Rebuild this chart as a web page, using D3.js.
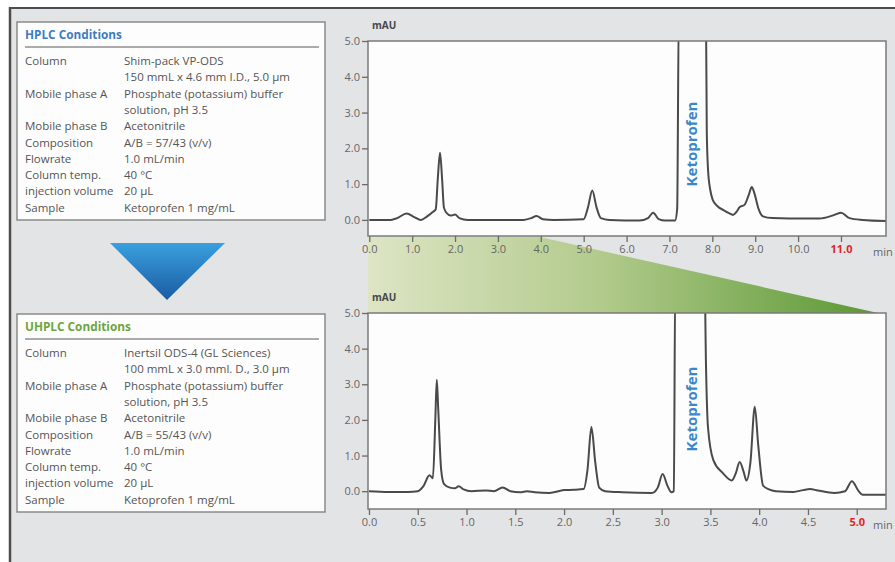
<!DOCTYPE html>
<html lang="en">
<head>
  <meta charset="utf-8">
  <title>HPLC vs UHPLC - Ketoprofen</title>
  <script type="text/javascript" src="https://cdn.jsdelivr.net/npm/d3@7/dist/d3.min.js"></script>
  <style>
    body { margin: 0; background: #fff; }
    svg { display: block; font-family: "Open Sans", "Noto Sans", sans-serif; }
  </style>
</head>
<body>
  <script type="text/javascript">

  // Conditions (textes des deux encadrés)
  var condLabels = ["Column", "", "Mobile phase A", "", "Mobile phase B", "Composition",
    "Flowrate", "Column temp.", "injection volume", "Sample"];
  var hplcValues = ["Shim-pack VP-ODS", "150 mmL x 4.6 mm I.D., 5.0 µm",
    "Phosphate (potassium) buffer", "solution, pH 3.5", "Acetonitrile",
    "A/B = 57/43 (v/v)", "1.0 mL/min", "40 °C", "20 µL", "Ketoprofen 1 mg/mL"];
  var uhplcValues = ["Inertsil ODS-4 (GL Sciences)", "100 mmL x 3.0 mml. D., 3.0 µm",
    "Phosphate (potassium) buffer", "solution, pH 3.5", "Acetonitrile",
    "A/B = 55/43 (v/v)", "1.0 mL/min", "40 °C", "20 µL", "Ketoprofen 1 mg/mL"];

  // Axes
  var yTicks = [0, 1, 2, 3, 4, 5];
  var hplcTimeTicks = [0, 1, 2, 3, 4, 5, 6, 7, 8, 9, 10, 11];
  var uhplcTimeTicks = [0, 0.5, 1, 1.5, 2, 2.5, 3, 3.5, 4, 4.5, 5];

  // Chromatogrammes : [temps (min), absorbance (mAU)]
  // (le pic du kétoprofène sort de l'échelle, il est coupé à 5.0)
  var hplcTrace = [
    [0.0, 0.0], [0.5, 0.0], [0.65, 0.05], [0.87, 0.18], [1.05, 0.08], [1.2, 0.0],
    [1.35, 0.1], [1.48, 0.22], [1.55, 0.3], [1.6, 1.2], [1.65, 1.88], [1.7, 1.1],
    [1.74, 0.35], [1.8, 0.2], [1.9, 0.12], [2.0, 0.15], [2.1, 0.05], [2.3, 0.0],
    [3.0, 0.0], [3.6, 0.0], [3.78, 0.05], [3.9, 0.11], [4.05, 0.02], [4.3, 0.0],
    [5.0, 0.02], [5.1, 0.35], [5.2, 0.82], [5.3, 0.35], [5.4, 0.05], [5.6, 0.0],
    [6.3, -0.02], [6.5, 0.05], [6.62, 0.2], [6.75, 0.02], [6.9, -0.02], [7.13, -0.02],
    [7.18, 0.3], [7.22, 6.0], [7.85, 6.0], [7.87, 2.5], [7.9, 1.4], [7.95, 0.85],
    [8.01, 0.56], [8.12, 0.38], [8.25, 0.28], [8.4, 0.18], [8.48, 0.14], [8.56, 0.22],
    [8.64, 0.36], [8.75, 0.42], [8.85, 0.7], [8.92, 0.92], [8.98, 0.75], [9.08, 0.3],
    [9.18, 0.1], [9.4, 0.05], [9.8, 0.04], [10.5, 0.04], [10.8, 0.12], [11.0, 0.2],
    [11.2, 0.05], [11.5, 0.0], [12.05, -0.03]
  ];
  var uhplcTrace = [
    [0.0, 0.0], [0.2, -0.02], [0.4, -0.02], [0.5, 0.0], [0.56, 0.15], [0.62, 0.45],
    [0.655, 0.36], [0.68, 2.0], [0.695, 3.13], [0.71, 2.3], [0.74, 0.6], [0.77, 0.2],
    [0.83, 0.1], [0.88, 0.08], [0.92, 0.14], [0.97, 0.05], [1.05, 0.0], [1.2, 0.02],
    [1.28, 0.0], [1.37, 0.1], [1.45, 0.0], [1.55, -0.03], [1.62, 0.0], [1.7, -0.03],
    [1.85, -0.05], [2.0, 0.03], [2.1, 0.04], [2.2, 0.06], [2.24, 0.6], [2.28, 1.8],
    [2.32, 0.8], [2.36, 0.1], [2.42, 0.0], [2.6, -0.03], [2.9, -0.05], [2.96, 0.1],
    [3.01, 0.48], [3.06, 0.15], [3.1, -0.03], [3.125, 0.0], [3.14, 6.0], [3.44, 6.0],
    [3.455, 3.5], [3.475, 1.8], [3.53, 0.87], [3.63, 0.5], [3.72, 0.3], [3.76, 0.5],
    [3.8, 0.82], [3.84, 0.55], [3.87, 0.3], [3.91, 0.8], [3.955, 2.37], [3.99, 1.3],
    [4.04, 0.16], [4.1, 0.05], [4.17, 0.0], [4.35, -0.02], [4.45, 0.03], [4.52, 0.06],
    [4.6, 0.02], [4.77, -0.05], [4.88, 0.0], [4.95, 0.28], [5.02, 0.0], [5.06, -0.1],
    [5.3, -0.1]
  ];

  var width = 895;
  var height = 562;

  var svg = d3.select("body")
    .append("svg")
    .attr("width", width)
    .attr("height", height)
    .attr("viewBox", [0, 0, width, height]);

  var defs = svg.append("defs");

  // fond gris + cadre
  svg.append("rect")
    .attr("x", 10).attr("y", 8)
    .attr("width", width - 10).attr("height", height - 8)
    .attr("fill", "#e3e4e6");
  svg.append("line")
    .attr("x1", 9).attr("x2", width).attr("y1", 8).attr("y2", 8)
    .attr("stroke", "#4d4d4d").attr("stroke-width", 2);
  svg.append("line")
    .attr("x1", 10).attr("x2", 10).attr("y1", 7).attr("y2", height)
    .attr("stroke", "#4d4d4d").attr("stroke-width", 2.5);

  // encadrés des conditions
  function conditionsBox(top, title, color, values) {
    var g = svg.append("g");
    g.append("rect")
      .attr("x", 17).attr("y", top)
      .attr("width", 308).attr("height", 198)
      .attr("fill", "#fdfdfd")
      .attr("stroke", "#8a8a8a").attr("stroke-width", 1.5);
    g.append("text")
      .attr("x", 25).attr("y", top + 17)
      .attr("font-size", "11.8px").attr("font-weight", "bold")
      .attr("fill", color)
      .text(title);
    g.append("line")
      .attr("x1", 25).attr("x2", 319)
      .attr("y1", top + 25).attr("y2", top + 25)
      .attr("stroke", "#8f8f8f").attr("stroke-width", 1.5);
    var rows = g.selectAll("g.row")
      .data(condLabels.map((d, i) => ({ label: d, value: values[i] })))
      .enter().append("g")
      .attr("class", "row")
      .attr("transform", (d, i) => `translate(0,${top + 43 + i * 16.3})`);
    rows.append("text")
      .attr("x", 25)
      .attr("font-size", "11.5px").attr("fill", "#555")
      .text(d => d.label);
    rows.append("text")
      .attr("x", 124)
      .attr("font-size", "11.5px").attr("fill", "#555")
      .text(d => d.value);
  }
  conditionsBox(22, "HPLC Conditions", "#3d7dbf", hplcValues);
  conditionsBox(314, "UHPLC Conditions", "#6ea53c", uhplcValues);

  // flèche bleue
  var blue = defs.append("linearGradient")
    .attr("id", "blueGrad")
    .attr("x1", 0).attr("x2", 0).attr("y1", 0).attr("y2", 1);
  blue.append("stop").attr("offset", 0).attr("stop-color", "#3aa0dd");
  blue.append("stop").attr("offset", 1).attr("stop-color", "#1a5ba3");
  svg.append("path")
    .attr("d", "M110,243L225,243L167,300Z")
    .attr("fill", "url(#blueGrad)");

  // bandeau vert (réduction du temps d'analyse)
  var green = defs.append("linearGradient")
    .attr("id", "greenGrad")
    .attr("x1", 0).attr("x2", 1).attr("y1", 0).attr("y2", 0);
  green.append("stop").attr("offset", 0).attr("stop-color", "#dde5c4");
  green.append("stop").attr("offset", 0.45).attr("stop-color", "#b3cb8d");
  green.append("stop").attr("offset", 1).attr("stop-color", "#5a9832");
  svg.append("path")
    .attr("d", "M368,237L540,237L878,313L368,313Z")
    .attr("fill", "url(#greenGrad)");

  // un chromatogramme
  function chromatogram(opt) {
    var x = d3.scaleLinear().domain(opt.xDomain).range([368, 886]);
    var y = d3.scaleLinear().domain(opt.yDomain).range(opt.yRange);
    var g = svg.append("g");

    g.append("clipPath")
      .attr("id", opt.id)
      .append("rect")
      .attr("x", 368).attr("y", opt.yRange[1])
      .attr("width", 886 - 368).attr("height", opt.yRange[0] - opt.yRange[1]);

    g.append("rect")
      .attr("x", 368).attr("y", opt.yRange[1])
      .attr("width", 886 - 368).attr("height", opt.yRange[0] - opt.yRange[1])
      .attr("fill", "#fdfdfd");

    var line = d3.line()
      .x(d => x(d[0]))
      .y(d => y(d[1]))
      .curve(d3.curveMonotoneX);

    g.append("path")
      .datum(opt.trace)
      .attr("clip-path", `url(#${opt.id})`)
      .attr("fill", "none")
      .attr("stroke", "#4a4a4a")
      .attr("stroke-width", 2)
      .attr("stroke-linejoin", "round")
      .attr("d", line);

    g.append("rect")
      .attr("x", 368).attr("y", opt.yRange[1])
      .attr("width", 886 - 368).attr("height", opt.yRange[0] - opt.yRange[1])
      .attr("fill", "none")
      .attr("stroke", "#7a7a7a").attr("stroke-width", 1.5);

    var yAxis = g.append("g")
      .attr("transform", "translate(368,0)")
      .call(d3.axisLeft(y).tickValues(yTicks).tickFormat(d3.format(".1f")).tickSize(6).tickPadding(2));
    var xAxis = g.append("g")
      .attr("transform", `translate(0,${opt.yRange[0]})`)
      .call(d3.axisBottom(x).tickValues(opt.xTicks).tickFormat(d3.format(".1f")).tickSize(6).tickPadding(3));

    [yAxis, xAxis].forEach(a => {
      a.select(".domain").remove();
      a.selectAll(".tick line").attr("stroke", "#6a6a6a").attr("stroke-width", 1.3);
      a.selectAll(".tick text")
        .attr("fill", "#666")
        .attr("font-size", "11px")
        .attr("font-family", "\"Open Sans\", sans-serif");
    });
    xAxis.selectAll(".tick text")
      .filter(d => d === opt.redTick)
      .attr("fill", "#e0262b")
      .attr("font-weight", "bold");

    g.append("text")
      .attr("x", 873).attr("y", opt.yRange[0] + 20)
      .attr("font-size", "11px").attr("fill", "#666")
      .text("min");

    g.append("text")
      .attr("x", 372).attr("y", opt.yRange[1] - 12)
      .attr("font-size", "10px").attr("font-weight", "bold").attr("fill", "#474747")
      .text("mAU");

    g.append("text")
      .attr("transform", `translate(697,${opt.labelY}) rotate(-90)`)
      .attr("text-anchor", "middle")
      .attr("font-size", "15px").attr("font-weight", "bold")
      .attr("fill", "#3a88c9")
      .text("Ketoprofen");
  }

  chromatogram({
    id: "clipHplc",
    trace: hplcTrace,
    xDomain: [-0.03, 12.05],
    yDomain: [-0.45, 5.0],
    yRange: [236, 41],
    xTicks: hplcTimeTicks,
    redTick: 11,
    labelY: 144
  });

  chromatogram({
    id: "clipUhplc",
    trace: uhplcTrace,
    xDomain: [-0.01, 5.3],
    yDomain: [-0.5, 5.0],
    yRange: [509, 313],
    xTicks: uhplcTimeTicks,
    redTick: 5,
    labelY: 409
  });

  </script>
</body>
</html>
